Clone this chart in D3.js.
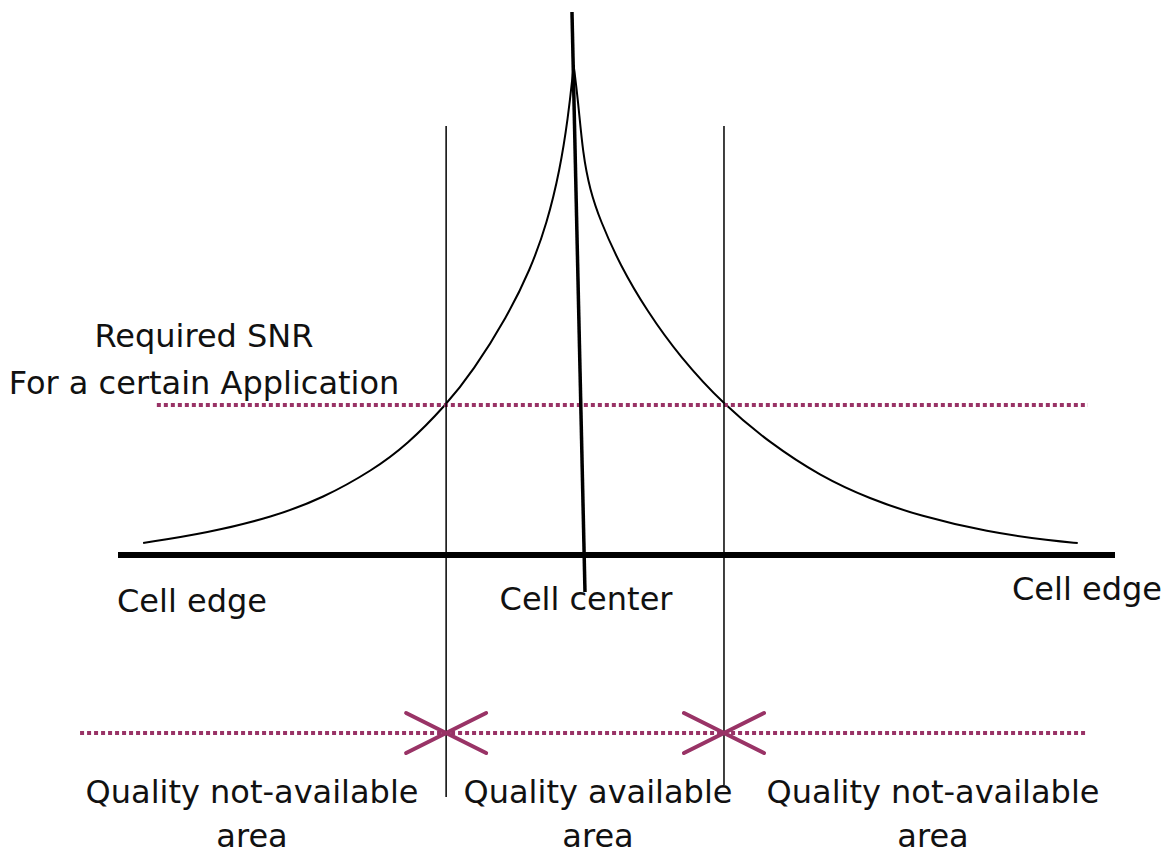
<!DOCTYPE html>
<html>
<head>
<meta charset="utf-8">
<script src="https://cdn.jsdelivr.net/npm/d3@7"></script>
<style>
	body { margin: 0; background: #fff; }
	text { font-family: "DejaVu Sans", Verdana, sans-serif; font-size: 32px; fill: #111; }
</style>
</head>
<body>
<div id="chart"></div>
<script>
var WIDTH = 1166;
var HEIGHT = 852;
var PLUM = '#993366';

// distance from the cell centre (cell edges at -100 / +100) and SNR (arbitrary units)
var leftDistance = [-94.5, -80.5, -66.1, -55.1, -44.2, -36.8, -28.2, -22.3, -14.9, -9.8, -6.1, -3.3, -1.5, -0.5, -0.3];
var leftSnr = [2.4, 4.4, 7.6, 11.4, 17, 22, 30, 36.8, 47.6, 57, 66.4, 77, 87.6, 96, 98];
var rightDistance = [-0.3, 0.56, 1.48, 2.78, 4.63, 8.33, 13.33, 19.44, 27.59, 36.11, 45.37, 54.63, 63.89, 76.3, 88.5, 93.1];
var rightSnr = [98, 91, 80, 73, 67, 58, 48.8, 39.6, 30, 22.4, 15.8, 11.2, 7.8, 4.6, 2.8, 2.4];

var requiredSnr = 30;
var requiredSpan = [-91.5, 95];
var coverageEdges = [-28.2, 27.59];
var stripSpan = [-108.3, 95];
var centreMarker = [[-0.66, 108.6], [1.85, -7.4]];

var snrLabel = ['Required SNR', 'For a certain Application'];
var axisLabels = ['Cell edge', 'Cell center', 'Cell edge'];
var areaLabels = [['Quality not-available', 'area'], ['Quality available', 'area'], ['Quality not-available', 'area']];

function makeSVG() {
	var svg = d3.select('#chart').append('svg')
		.attr('width', WIDTH)
		.attr('height', HEIGHT);
	return svg;
}

var svg = makeSVG();

var x = d3.scaleLinear().domain([-100, 0, 100]).range([118, 575, 1115]);
var y = d3.scaleLinear().domain([0, 100]).range([555, 55]);
var STRIP_Y = 733;

var line = d3.line()
	.x(function(d) { return x(d[0]); })
	.y(function(d) { return y(d[1]); })
	.curve(d3.curveBasis);

// SNR curve, drawn as two branches so the peak stays sharp
[d3.zip(leftDistance, leftSnr), d3.zip(rightDistance, rightSnr)].forEach(function(branch) {
	svg.append('path')
		.attr('d', line(branch))
		.attr('fill', 'none')
		.attr('stroke', '#000')
		.attr('stroke-width', 2);
});

// required SNR threshold
svg.append('line')
	.attr('x1', x(requiredSpan[0])).attr('x2', x(requiredSpan[1]))
	.attr('y1', y(requiredSnr)).attr('y2', y(requiredSnr))
	.attr('stroke', PLUM)
	.attr('stroke-width', 4)
	.attr('stroke-dasharray', '4,3');

// coverage boundaries
var bottoms = [797, 785];
coverageEdges.forEach(function(d, i) {
	svg.append('line')
		.attr('x1', x(d)).attr('x2', x(d))
		.attr('y1', y(85.8)).attr('y2', bottoms[i])
		.attr('stroke', '#000')
		.attr('stroke-width', 1.5);
});

// distance axis
svg.append('line')
	.attr('x1', x(-100)).attr('x2', x(100))
	.attr('y1', y(0)).attr('y2', y(0))
	.attr('stroke', '#000')
	.attr('stroke-width', 6);

// cell centre marker
svg.append('line')
	.attr('x1', x(centreMarker[0][0])).attr('y1', y(centreMarker[0][1]))
	.attr('x2', x(centreMarker[1][0])).attr('y2', y(centreMarker[1][1]))
	.attr('stroke', '#000')
	.attr('stroke-width', 3.5);

// quality strip
svg.append('line')
	.attr('x1', x(stripSpan[0])).attr('x2', x(stripSpan[1]))
	.attr('y1', STRIP_Y).attr('y2', STRIP_Y)
	.attr('stroke', PLUM)
	.attr('stroke-width', 4)
	.attr('stroke-dasharray', '4,3');

coverageEdges.forEach(function(d) {
	var cx = x(d);
	[[-1, -1, 1, 1], [-1, 1, 1, -1]].forEach(function(s) {
		svg.append('line')
			.attr('x1', cx + 40 * s[0]).attr('y1', STRIP_Y + 20 * s[1])
			.attr('x2', cx + 40 * s[2]).attr('y2', STRIP_Y + 20 * s[3])
			.attr('stroke', PLUM)
			.attr('stroke-width', 4)
			.attr('stroke-linecap', 'round');
	});
});

// labels
svg.append('text').attr('x', 204).attr('y', 347).attr('text-anchor', 'middle').text(snrLabel[0]);
svg.append('text').attr('x', 204).attr('y', 394).attr('text-anchor', 'middle').text(snrLabel[1]);

var axisPos = [[x(-100) - 1, 612, 'start'], [586, 610, 'middle'], [1162, 600, 'end']];
axisLabels.forEach(function(t, i) {
	svg.append('text')
		.attr('x', axisPos[i][0])
		.attr('y', axisPos[i][1])
		.attr('text-anchor', axisPos[i][2])
		.text(t);
});

var areaCentres = [252, 598, 933];
areaLabels.forEach(function(lines, i) {
	lines.forEach(function(t, j) {
		svg.append('text')
			.attr('x', areaCentres[i])
			.attr('y', 803 + j * 44)
			.attr('text-anchor', 'middle')
			.text(t);
	});
});
</script>
</body>
</html>
